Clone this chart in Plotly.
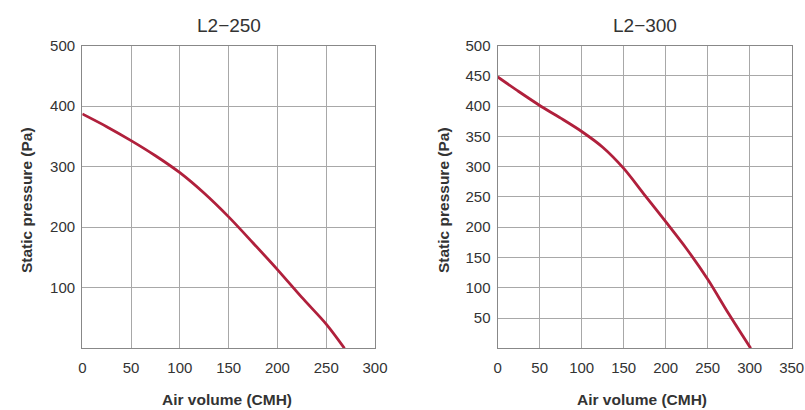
import plotly.graph_objects as go

# L2-250 data
x250 = [0, 25, 50, 75, 100, 125, 150, 175, 200, 225, 250, 268.7]
y250 = [387, 366, 343, 318, 290, 256, 217, 174, 130, 84, 40, 0]

# L2-300 data
x300 = [0, 25, 50, 75, 100, 125, 150, 175, 200, 225, 250, 275, 301.2]
y300 = [448, 424, 401, 380, 358, 332, 297, 253, 209, 164, 114, 57, 0]

titles = ["L2\u2212250", "L2\u2212300"]
x_title = "Air volume (CMH)"
y_title = "Static pressure (Pa)"

x1_ticks = [0, 50, 100, 150, 200, 250, 300]
y1_ticks = [100, 200, 300, 400, 500]
x2_ticks = [0, 50, 100, 150, 200, 250, 300, 350]
y2_ticks = [50, 100, 150, 200, 250, 300, 350, 400, 450, 500]

W, H = 805, 410
line_color = "#b0203c"
text_color = "#333333"
font_family = "Liberation Sans, Arial, Helvetica, sans-serif"

fig = go.Figure()
fig.add_trace(go.Scatter(x=x250, y=y250, mode="lines", xaxis="x", yaxis="y",
                         line=dict(color=line_color, width=2.8, shape="spline", smoothing=0.9),
                         showlegend=False, hoverinfo="skip"))
fig.add_trace(go.Scatter(x=x300, y=y300, mode="lines", xaxis="x2", yaxis="y2",
                         line=dict(color=line_color, width=2.8, shape="spline", smoothing=0.8),
                         showlegend=False, hoverinfo="skip"))


def px_x(p):
    return p / W


def px_y(p):
    return 1 - p / H


d1 = [px_x(82.3), px_x(375)]
d2 = [px_x(497.7), px_x(791.7)]
dy = [px_y(348.3), px_y(45.5)]

axis_common = dict(showline=True, linecolor="#888888", linewidth=1.3, mirror=True,
                   showgrid=True, gridcolor="#a8a8a8", gridwidth=1.2, zeroline=False,
                   ticks="", tickfont=dict(size=15, color=text_color, family=font_family),
                   fixedrange=True)

fig.update_layout(
    width=W, height=H,
    margin=dict(l=0, r=0, t=0, b=0, autoexpand=False),
    paper_bgcolor="white", plot_bgcolor="white",
    font=dict(family=font_family, color=text_color),
    xaxis=dict(domain=d1, range=[0, 300], tickvals=x1_ticks, anchor="y",
               ticklabelstandoff=6, **axis_common),
    yaxis=dict(domain=dy, range=[0, 500], tickvals=y1_ticks, anchor="x",
               ticklabelstandoff=3, **axis_common),
    xaxis2=dict(domain=d2, range=[0, 350], tickvals=x2_ticks, anchor="y2",
                ticklabelstandoff=6, **axis_common),
    yaxis2=dict(domain=dy, range=[0, 500], tickvals=y2_ticks, anchor="x2",
                ticklabelstandoff=3, **axis_common),
)

anns = []
for (cx, tcx, ycx, t) in [(228.7, 227, 26, titles[0]),
                          (644.7, 641.7, 443, titles[1])]:
    anns.append(dict(text=t, x=px_x(cx), y=px_y(25), xref="paper", yref="paper",
                     showarrow=False, xanchor="center", yanchor="middle",
                     font=dict(size=19, color=text_color, family=font_family)))
    anns.append(dict(text="<b>" + x_title + "</b>", x=px_x(tcx), y=px_y(399), xref="paper", yref="paper",
                     showarrow=False, xanchor="center", yanchor="middle",
                     font=dict(size=15.5, color=text_color, family=font_family)))
    anns.append(dict(text="<b>" + y_title + "</b>", x=px_x(ycx), y=px_y(200), xref="paper", yref="paper",
                     showarrow=False, xanchor="center", yanchor="middle", textangle=-90,
                     font=dict(size=15.5, color=text_color, family=font_family)))
fig.update_layout(annotations=anns)

fig.write_html("out.html", config={"displayModeBar": False},
               post_script="document.body.style.margin='0';document.body.style.overflow='hidden';")
